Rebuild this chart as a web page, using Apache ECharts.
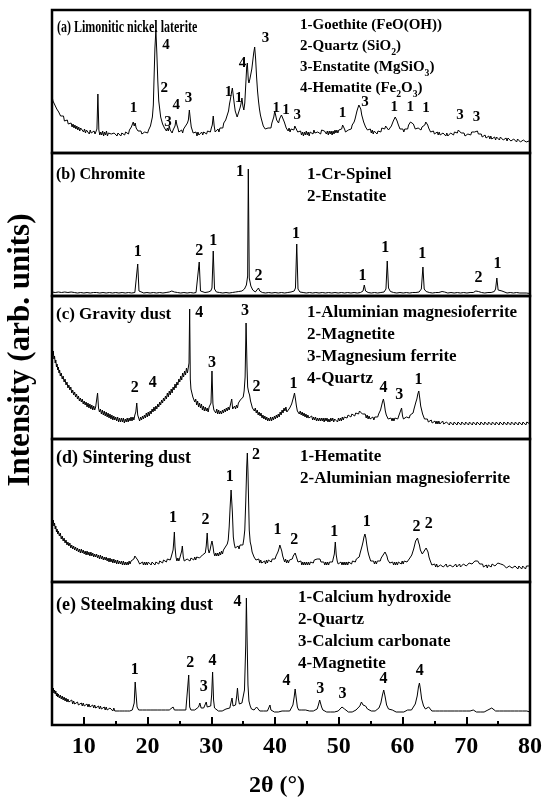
<!DOCTYPE html>
<html>
<head>
<meta charset="utf-8">
<script src="https://cdn.jsdelivr.net/npm/echarts@6/dist/echarts.min.js"></script>
<style>
  html, body { margin: 0; padding: 0; background: #fff; }
  #chart { width: 550px; height: 804px; }
</style>
</head>
<body>
<div id="chart"></div>
<script>
// x axis ticks
const xTicks = [10, 20, 30, 40, 50, 60, 70, 80]
const xMinorTicks = [15, 25, 35, 45, 55, 65, 75]

const sampleNames = [
  '(a) Limonitic nickel laterite',
  '(b) Chromite',
  '(c) Gravity dust',
  '(d) Sintering dust',
  '(e) Steelmaking dust'
]

const phasesA = ['1-Goethite (FeO(OH))', '2-Quartz (SiO{s|2})', '3-Enstatite (MgSiO{s|3})', '4-Hematite (Fe{s|2}O{s|3})']
const phasesB = ['1-Cr-Spinel', '2-Enstatite']
const phasesC = ['1-Aluminian magnesioferrite', '2-Magnetite', '3-Magnesium ferrite', '4-Quartz']
const phasesD = ['1-Hematite', '2-Aluminian magnesioferrite']
const phasesE = ['1-Calcium hydroxide', '2-Quartz', '3-Calcium carbonate', '4-Magnetite']

// patterns: [2theta, intensity (arb.)]
const patternA = [[5.0,57],[5.15,52],[5.3,54],[5.45,48],[5.6,49],[5.75,44],[5.9,46],[6.05,41],[6.2,42],[6.35,37],[6.5,39],[6.65,35],[6.8,37],[6.95,32],[7.1,34],[7.25,30],[7.4,33],[7.55,29],[7.7,31],[7.85,27],[8.0,30],[8.15,26],[8.3,29],[8.45,25],[8.6,28],[8.75,24],[8.9,27],[9.05,23],[9.2,26],[9.35,22],[9.5,25],[9.65,23],[9.8,25],[9.95,21],[10.1,24],[10.25,20],[10.4,23],[10.55,21],[10.7,24],[10.85,19],[11.0,23],[11.15,20],[11.3,22],[11.45,18],[11.6,22],[11.75,19],[11.9,21],[12.05,24],[12.2,59],[12.35,23],[12.5,18],[12.65,21],[12.8,18],[12.95,22],[13.1,17],[13.25,21],[13.4,18],[13.55,22],[13.7,17],[13.85,20],[14.0,18],[14.15,22],[14.3,19],[14.45,21],[14.6,17],[14.75,20],[14.9,18],[15.05,22],[15.2,17],[15.35,20],[15.5,18],[15.65,21],[15.8,17],[15.95,20],[16.1,18],[16.25,22],[16.4,18],[16.55,21],[16.7,19],[16.85,22],[17.0,19],[17.15,23],[17.3,21],[17.45,26],[17.6,25],[17.75,31],[17.9,27],[18.05,30],[18.2,25],[18.35,26],[18.5,22],[18.65,24],[18.8,20],[18.95,22],[19.1,19],[19.25,21],[19.4,18],[19.55,21],[19.7,19],[19.85,22],[20.0,20],[20.15,23],[20.3,22],[20.45,27],[20.6,29],[20.75,36],[20.9,48],[21.0,72],[21.15,105],[21.3,123],[21.45,100],[21.6,72],[21.75,52],[21.9,44],[22.05,36],[22.2,35],[22.35,29],[22.5,30],[22.65,25],[22.8,27],[22.95,22],[23.1,25],[23.25,22],[23.4,27],[23.55,23],[23.7,24],[23.85,20],[24.0,23],[24.15,22],[24.3,27],[24.45,33],[24.6,28],[24.75,25],[24.9,21],[25.05,23],[25.2,19],[25.35,23],[25.5,20],[25.65,24],[25.8,23],[25.95,27],[26.1,25],[26.25,30],[26.4,33],[26.55,43],[26.7,34],[26.85,26],[27.0,24],[27.15,20],[27.3,22],[27.45,18],[27.6,21],[27.75,17],[27.9,21],[28.05,18],[28.2,20],[28.35,17],[28.5,21],[28.65,18],[28.8,21],[28.95,19],[29.1,23],[29.25,19],[29.4,22],[29.55,20],[29.7,23],[29.85,21],[30.0,25],[30.15,28],[30.3,37],[30.45,27],[30.6,21],[30.75,23],[30.9,20],[31.05,24],[31.2,21],[31.35,25],[31.5,23],[31.65,27],[31.8,25],[31.95,30],[32.1,29],[32.25,33],[32.4,34],[32.55,39],[32.7,42],[32.85,49],[33.0,54],[33.15,60],[33.3,65],[33.45,57],[33.6,49],[33.75,42],[33.9,40],[34.05,36],[34.2,39],[34.35,40],[34.5,45],[34.65,49],[34.8,55],[34.95,47],[35.1,43],[35.25,50],[35.4,68],[35.55,86],[35.65,90],[35.8,73],[35.9,70],[36.05,74],[36.2,73],[36.35,84],[36.5,92],[36.65,100],[36.8,106],[36.95,94],[37.1,76],[37.25,62],[37.4,52],[37.55,44],[37.7,38],[37.85,34],[38.0,32],[38.15,27],[38.3,29],[38.45,24],[38.6,26],[38.75,22],[38.9,25],[39.05,23],[39.2,27],[39.35,25],[39.5,30],[39.65,31],[39.8,36],[39.95,42],[40.1,40],[40.25,33],[40.4,31],[40.55,30],[40.7,34],[40.85,35],[41.0,38],[41.15,40],[41.3,36],[41.45,31],[41.6,29],[41.75,25],[41.9,26],[42.05,22],[42.2,25],[42.35,21],[42.5,24],[42.65,22],[42.8,25],[42.95,23],[43.1,27],[43.25,29],[43.4,25],[43.55,21],[43.7,23],[43.85,19],[44.0,22],[44.15,18],[44.3,21],[44.45,17],[44.6,21],[44.75,18],[44.9,22],[45.05,18],[45.2,21],[45.35,17],[45.5,21],[45.65,19],[45.8,22],[45.95,19],[46.1,23],[46.25,20],[46.4,22],[46.55,18],[46.7,21],[46.85,19],[47.0,22],[47.15,19],[47.3,23],[47.45,21],[47.6,25],[47.75,22],[47.9,23],[48.05,19],[48.2,22],[48.35,18],[48.5,22],[48.65,19],[48.8,22],[48.95,18],[49.1,22],[49.25,19],[49.4,23],[49.55,20],[49.7,23],[49.85,20],[50.0,23],[50.15,22],[50.3,25],[50.45,24],[50.6,28],[50.75,27],[50.9,24],[51.05,21],[51.2,23],[51.35,20],[51.5,23],[51.65,22],[51.8,25],[51.95,24],[52.1,28],[52.25,27],[52.4,31],[52.55,34],[52.7,38],[52.85,42],[53.0,45],[53.15,48],[53.3,46],[53.45,44],[53.6,38],[53.75,36],[53.9,31],[54.05,30],[54.2,26],[54.35,27],[54.5,23],[54.65,25],[54.8,21],[54.95,24],[55.1,20],[55.25,23],[55.4,19],[55.55,22],[55.7,20],[55.85,23],[56.0,19],[56.15,22],[56.3,21],[56.45,24],[56.6,21],[56.75,25],[56.9,23],[57.05,26],[57.2,24],[57.35,27],[57.5,25],[57.65,26],[57.8,23],[57.95,25],[58.1,23],[58.25,27],[58.4,28],[58.55,32],[58.7,33],[58.85,36],[59.0,35],[59.15,32],[59.3,29],[59.45,27],[59.6,24],[59.75,25],[59.9,22],[60.05,24],[60.2,21],[60.35,24],[60.5,22],[60.65,25],[60.8,24],[60.95,28],[61.1,27],[61.25,31],[61.4,32],[61.55,33],[61.7,29],[61.85,27],[62.0,24],[62.15,25],[62.3,22],[62.45,25],[62.6,23],[62.75,26],[62.9,23],[63.05,26],[63.2,25],[63.35,28],[63.5,28],[63.65,31],[63.8,31],[63.95,28],[64.1,25],[64.25,24],[64.4,21],[64.55,23],[64.7,20],[64.85,22],[65.0,19],[65.15,21],[65.3,18],[65.45,21],[65.6,18],[65.75,21],[65.9,18],[66.05,20],[66.2,17],[66.35,20],[66.5,18],[66.65,20],[66.8,17],[66.95,20],[67.1,17],[67.25,19],[67.4,17],[67.55,20],[67.7,18],[67.85,21],[68.0,18],[68.15,21],[68.3,19],[68.45,22],[68.6,20],[68.75,23],[68.9,21],[69.05,23],[69.2,20],[69.35,22],[69.5,19],[69.65,20],[69.8,17],[69.95,19],[70.1,17],[70.25,19],[70.4,17],[70.55,20],[70.7,18],[70.85,21],[71.0,19],[71.15,22],[71.3,21],[71.45,23],[71.6,21],[71.75,22],[71.9,19],[72.05,20],[72.2,17],[72.35,19],[72.5,16],[72.65,18],[72.8,15],[72.95,18],[73.1,15],[73.25,17],[73.4,15],[73.55,17],[73.7,14],[73.85,17],[74.0,14],[74.15,16],[74.3,14],[74.45,16],[74.6,13],[74.75,16],[74.9,14],[75.05,16],[75.2,13],[75.35,16],[75.5,14],[75.65,16],[75.8,13],[75.95,15],[76.1,13],[76.25,15],[76.4,12],[76.55,15],[76.7,13],[76.85,15],[77.0,12],[77.15,14],[77.3,12],[77.45,14],[77.6,12],[77.75,14],[77.9,11],[78.05,14],[78.2,12],[78.35,14],[78.5,11],[78.65,13],[78.8,11],[78.95,13],[79.1,11],[79.25,13],[79.4,11],[79.55,13],[79.7,11],[79.85,12],[80.0,12]]

const patternB = [[5.0,4],[5.5,3.5],[6.0,4],[6.5,3.5],[7.0,4],[7.5,3.5],[8.0,4],[8.5,3.5],[9.0,3],[9.5,3.5],[10.0,3],[10.5,3.5],[11,3],[11.5,3.5],[12,3.5],[12.5,3],[13,3.5],[13.5,3],[14,3.5],[14.5,3],[15,3.5],[15.5,3],[16,3.5],[16.5,3],[17,3.5],[17.5,3],[18.0,3.5],[18.25,5],[18.45,32],[18.65,5],[18.9,3.5],[19.4,3],[19.9,3.5],[20.4,3],[20.9,3.5],[21.4,3],[21.9,3.5],[22.4,3],[22.9,3.5],[23.4,4],[23.8,5],[24.2,4],[24.7,3.5],[25.2,3],[25.7,3.5],[26.2,3],[26.7,3.5],[27.2,3],[27.6,3.5],[27.9,5],[28.1,34],[28.3,5],[28.6,4],[29.0,3.5],[29.5,4],[29.9,5],[30.1,8],[30.3,45],[30.5,7],[30.8,4],[31.3,3.5],[31.8,3],[32.3,3.5],[32.8,3],[33.3,3.5],[33.8,4],[34.3,4.5],[34.8,5],[35.2,7],[35.5,11],[35.7,20],[35.8,127],[35.95,18],[36.2,10],[36.5,6],[36.9,4],[37.2,5],[37.4,8],[37.6,5],[38.0,3.5],[38.5,3],[39,3.5],[39.5,3],[40,3.5],[40.5,3],[41,3.5],[41.5,3],[42.0,3.5],[42.5,4],[42.8,6],[43.0,5],[43.2,8],[43.4,52],[43.6,7],[43.9,4],[44.4,3.5],[44.9,3],[45.4,3.5],[45.9,3],[46.4,3.5],[46.9,3],[47.4,3.5],[47.9,3],[48.4,3.5],[48.9,3],[49.4,3.5],[49.9,3],[50.4,3.5],[50.9,3],[51.4,3.5],[51.9,3],[52.4,3.5],[52.9,3],[53.4,3.5],[53.8,5],[54.0,11],[54.2,5],[54.6,3.5],[55.1,3],[55.6,3.5],[56.1,3],[56.6,3.5],[57.1,4],[57.4,7],[57.6,35],[57.8,8],[58.1,4.5],[58.6,3.5],[59.1,3],[59.6,3.5],[60.1,3],[60.6,3.5],[61.1,3],[61.6,3.5],[62.1,3.5],[62.6,4],[62.95,7],[63.2,29],[63.4,7],[63.7,4.5],[64.2,3.5],[64.7,3],[65.2,3.5],[65.7,3.5],[66.2,4.5],[66.4,6],[66.6,4],[67.1,3],[67.6,3.5],[68.1,3],[68.6,3.5],[69.1,3],[69.6,3.5],[70.1,3],[70.6,3.5],[71.1,3.5],[71.5,5],[71.7,6],[71.9,4.5],[72.4,3.5],[72.9,3],[73.4,3.5],[73.9,3.5],[74.4,4.5],[74.6,7],[74.8,18],[75.0,6],[75.3,4],[75.6,5],[75.9,3.5],[76.4,3],[76.9,3.5],[77.4,3],[77.9,3.5],[78.4,3],[78.9,3],[79.4,3],[80.0,2.5]]

const patternC = [[5.0,92],[5.1,85],[5.2,88],[5.3,80],[5.4,83],[5.5,76],[5.6,79],[5.7,72],[5.8,75],[5.9,69],[6.0,72],[6.1,66],[6.2,69],[6.3,63],[6.45,66],[6.6,60],[6.75,63],[6.9,57],[7.05,60],[7.2,54],[7.35,57],[7.5,51],[7.65,54],[7.8,49],[7.95,52],[8.1,46],[8.25,49],[8.4,44],[8.55,47],[8.7,42],[8.85,45],[9.0,40],[9.15,43],[9.3,38],[9.45,41],[9.6,37],[9.75,40],[9.9,35],[10.05,38],[10.2,34],[10.35,37],[10.5,32],[10.65,36],[10.8,31],[10.95,35],[11.1,30],[11.25,34],[11.4,29],[11.55,33],[11.7,29],[11.85,32],[12.0,30],[12.15,46],[12.3,31],[12.45,27],[12.6,30],[12.75,25],[12.9,29],[13.05,24],[13.2,28],[13.35,23],[13.5,27],[13.65,22],[13.8,26],[13.95,21],[14.1,25],[14.25,20],[14.4,24],[14.55,19],[14.7,23],[14.85,19],[15.0,22],[15.15,18],[15.3,22],[15.45,17],[15.6,21],[15.75,17],[15.9,21],[16.05,17],[16.2,21],[16.35,16],[16.5,20],[16.65,17],[16.8,21],[16.95,17],[17.1,21],[17.25,18],[17.4,22],[17.55,18],[17.7,22],[17.85,19],[18.0,24],[18.15,27],[18.3,36],[18.45,24],[18.6,21],[18.75,18],[18.9,22],[19.05,19],[19.2,23],[19.35,20],[19.5,24],[19.65,21],[19.8,26],[19.95,22],[20.1,27],[20.25,23],[20.4,28],[20.55,25],[20.7,30],[20.85,27],[21.0,32],[21.15,28],[21.3,33],[21.45,30],[21.6,35],[21.75,32],[21.9,37],[22.05,34],[22.2,39],[22.35,36],[22.5,41],[22.65,38],[22.8,43],[22.95,40],[23.1,46],[23.25,42],[23.4,48],[23.55,44],[23.7,50],[23.85,46],[24.0,52],[24.15,49],[24.3,55],[24.45,51],[24.6,57],[24.75,54],[24.9,60],[25.05,57],[25.2,63],[25.35,59],[25.5,66],[25.65,62],[25.8,68],[25.95,64],[26.1,71],[26.25,66],[26.4,72],[26.5,76],[26.6,130],[26.7,60],[26.8,50],[26.95,46],[27.1,42],[27.25,44],[27.4,37],[27.55,40],[27.7,34],[27.85,38],[28.0,32],[28.15,36],[28.3,31],[28.45,35],[28.6,29],[28.75,33],[28.9,28],[29.05,32],[29.2,28],[29.35,31],[29.5,27],[29.65,32],[29.8,30],[29.95,36],[30.1,68],[30.25,35],[30.4,29],[30.55,31],[30.7,26],[30.85,30],[31.0,25],[31.15,29],[31.3,25],[31.45,28],[31.6,25],[31.75,29],[31.9,26],[32.05,30],[32.2,27],[32.35,31],[32.5,28],[32.65,32],[32.8,29],[32.95,33],[33.1,32],[33.2,40],[33.35,30],[33.5,28],[33.65,33],[33.8,30],[33.95,34],[34.1,31],[34.25,36],[34.4,34],[34.55,39],[34.7,40],[34.85,37],[35.0,42],[35.15,48],[35.3,62],[35.45,116],[35.6,72],[35.7,52],[35.85,47],[36.0,44],[36.15,38],[36.3,36],[36.45,31],[36.6,33],[36.75,28],[36.9,31],[37.05,26],[37.2,29],[37.35,24],[37.5,27],[37.65,23],[37.8,26],[37.95,21],[38.1,24],[38.25,20],[38.4,23],[38.55,19],[38.7,22],[38.85,18],[39.0,21],[39.15,18],[39.3,22],[39.45,18],[39.6,22],[39.75,19],[39.9,23],[40.05,20],[40.2,24],[40.35,21],[40.5,25],[40.65,22],[40.8,27],[40.95,24],[41.1,29],[41.25,26],[41.4,31],[41.55,28],[41.7,32],[41.85,27],[42.0,29],[42.15,27],[42.3,31],[42.45,31],[42.6,35],[42.75,37],[42.9,42],[43.05,46],[43.2,40],[43.35,33],[43.5,28],[43.65,30],[43.8,25],[43.95,28],[44.1,24],[44.25,27],[44.4,23],[44.55,26],[44.7,22],[44.85,25],[45.0,21],[45.15,24],[45.3,21],[45.45,23],[45.6,20],[45.75,23],[45.9,19],[46.05,22],[46.2,19],[46.35,22],[46.5,18],[46.65,21],[46.8,18],[46.95,21],[47.1,18],[47.25,21],[47.4,18],[47.55,21],[47.7,17],[47.85,21],[48.0,18],[48.15,21],[48.3,17],[48.45,20],[48.6,17],[48.75,21],[48.9,18],[49.05,21],[49.2,17],[49.35,20],[49.5,18],[49.65,21],[49.8,17],[49.95,21],[50.1,18],[50.25,21],[50.4,18],[50.55,22],[50.7,19],[50.85,22],[51.0,20],[51.15,23],[51.3,21],[51.45,24],[51.6,22],[51.75,25],[51.9,22],[52.05,25],[52.2,23],[52.35,26],[52.5,23],[52.65,26],[52.8,24],[52.95,27],[53.1,25],[53.25,28],[53.4,26],[53.55,28],[53.7,25],[53.85,27],[54.0,23],[54.15,25],[54.3,21],[54.45,24],[54.6,20],[54.75,23],[54.9,20],[55.05,22],[55.2,19],[55.35,22],[55.5,19],[55.65,22],[55.8,20],[55.95,23],[56.1,22],[56.25,25],[56.4,26],[56.55,29],[56.7,33],[56.85,37],[57.0,40],[57.15,35],[57.3,28],[57.45,24],[57.6,22],[57.75,20],[57.9,22],[58.05,19],[58.2,21],[58.35,18],[58.5,21],[58.65,18],[58.8,21],[58.95,19],[59.1,22],[59.25,20],[59.4,23],[59.55,21],[59.7,24],[59.85,31],[60.0,23],[60.15,20],[60.3,22],[60.45,19],[60.6,22],[60.75,20],[60.9,23],[61.05,21],[61.2,24],[61.35,23],[61.5,26],[61.65,26],[61.8,30],[61.95,32],[62.1,37],[62.25,40],[62.4,45],[62.55,48],[62.7,41],[62.85,33],[63.0,29],[63.15,25],[63.3,23],[63.45,20],[63.6,21],[63.75,18],[63.9,20],[64.05,17],[64.2,19],[64.35,16],[64.5,19],[64.65,16],[64.8,18],[64.95,15],[65.1,18],[65.25,15],[65.4,18],[65.55,15],[65.7,18],[65.85,15],[66.0,17],[66.15,15],[66.3,18],[66.45,15],[66.6,17],[66.75,14],[66.9,17],[67.05,15],[67.2,18],[67.35,14],[67.5,17],[67.65,15],[67.8,17],[67.95,14],[68.1,17],[68.25,15],[68.4,18],[68.55,14],[68.7,17],[68.85,15],[69.0,17],[69.15,14],[69.3,17],[69.45,15],[69.6,18],[69.75,14],[69.9,17],[70.05,15],[70.2,17],[70.35,14],[70.5,17],[70.65,15],[70.8,18],[70.95,14],[71.1,17],[71.25,15],[71.4,17],[71.55,14],[71.7,17],[71.85,15],[72.0,18],[72.15,14],[72.3,17],[72.45,15],[72.6,17],[72.75,14],[72.9,17],[73.05,15],[73.2,18],[73.35,14],[73.5,17],[73.65,15],[73.8,17],[73.95,14],[74.1,17],[74.25,15],[74.4,18],[74.55,14],[74.7,17],[74.85,15],[75.0,17],[75.15,14],[75.3,17],[75.45,15],[75.6,18],[75.75,14],[75.9,17],[76.05,15],[76.2,17],[76.35,14],[76.5,17],[76.65,15],[76.8,18],[76.95,14],[77.1,17],[77.25,15],[77.4,17],[77.55,14],[77.7,17],[77.85,15],[78.0,18],[78.15,14],[78.3,17],[78.45,15],[78.6,17],[78.75,14],[78.9,17],[79.05,15],[79.2,17],[79.35,14],[79.5,17],[79.65,15],[79.8,17],[80.0,15]]

const patternD = [[5.0,66],[5.1,59],[5.2,62],[5.3,56],[5.4,59],[5.5,53],[5.6,56],[5.7,50],[5.8,53],[5.9,48],[6.0,51],[6.15,46],[6.3,49],[6.45,43],[6.6,46],[6.75,41],[6.9,44],[7.05,39],[7.2,42],[7.35,37],[7.5,40],[7.65,36],[7.8,39],[7.95,34],[8.1,37],[8.25,33],[8.4,36],[8.55,32],[8.7,35],[8.85,31],[9.0,34],[9.15,30],[9.3,33],[9.45,29],[9.6,33],[9.75,29],[9.9,32],[10.05,28],[10.2,31],[10.35,27],[10.5,31],[10.65,27],[10.8,30],[10.95,26],[11.1,30],[11.25,26],[11.4,29],[11.55,25],[11.7,28],[11.85,25],[12.0,28],[12.15,24],[12.3,27],[12.45,23],[12.6,27],[12.75,23],[12.9,26],[13.05,22],[13.2,25],[13.35,22],[13.5,25],[13.65,21],[13.8,24],[13.95,20],[14.1,24],[14.25,20],[14.4,23],[14.55,19],[14.7,23],[14.85,19],[15.0,22],[15.15,18],[15.3,22],[15.45,18],[15.6,21],[15.75,18],[15.9,21],[16.05,17],[16.2,21],[16.35,17],[16.5,20],[16.65,17],[16.8,20],[16.95,17],[17.1,21],[17.25,18],[17.4,21],[17.55,20],[17.7,23],[17.85,23],[18.0,26],[18.15,25],[18.3,27],[18.45,22],[18.6,21],[18.75,18],[18.9,20],[19.05,17],[19.2,20],[19.35,17],[19.5,20],[19.65,17],[19.8,20],[19.95,17],[20.1,20],[20.25,18],[20.4,21],[20.55,17],[20.7,20],[20.85,18],[21.0,21],[21.15,17],[21.3,20],[21.45,18],[21.6,21],[21.75,18],[21.9,21],[22.05,19],[22.2,22],[22.35,19],[22.5,22],[22.65,20],[22.8,23],[22.95,20],[23.1,23],[23.25,21],[23.4,24],[23.55,22],[23.7,25],[23.85,27],[24.0,32],[24.1,40],[24.2,50],[24.3,35],[24.45,25],[24.6,21],[24.75,24],[24.9,21],[25.05,24],[25.2,26],[25.35,31],[25.45,36],[25.6,25],[25.75,21],[25.9,23],[26.05,20],[26.2,23],[26.35,21],[26.5,24],[26.65,21],[26.8,24],[26.95,22],[27.1,25],[27.25,22],[27.4,25],[27.55,22],[27.7,25],[27.85,23],[28.0,27],[28.15,24],[28.3,26],[28.45,23],[28.6,27],[28.75,25],[28.9,29],[29.05,29],[29.2,36],[29.35,49],[29.5,33],[29.65,29],[29.8,32],[29.95,37],[30.1,41],[30.25,36],[30.4,29],[30.55,26],[30.7,29],[30.85,26],[31.0,29],[31.15,26],[31.3,30],[31.45,27],[31.6,31],[31.75,28],[31.9,32],[32.05,31],[32.2,35],[32.35,34],[32.5,38],[32.65,42],[32.8,55],[32.95,75],[33.1,92],[33.2,94],[33.3,70],[33.45,45],[33.6,38],[33.75,34],[33.9,36],[34.05,32],[34.2,36],[34.35,33],[34.5,37],[34.65,35],[34.8,39],[34.95,37],[35.1,43],[35.25,52],[35.4,80],[35.55,115],[35.65,129],[35.75,110],[35.85,80],[35.95,52],[36.1,40],[36.25,36],[36.4,30],[36.55,29],[36.7,25],[36.85,26],[37.0,22],[37.15,24],[37.3,20],[37.45,23],[37.6,19],[37.75,22],[37.9,19],[38.05,21],[38.2,18],[38.35,21],[38.5,18],[38.65,22],[38.8,19],[38.95,22],[39.1,20],[39.25,23],[39.4,20],[39.55,23],[39.7,21],[39.85,24],[40.0,23],[40.15,26],[40.3,27],[40.45,30],[40.6,33],[40.75,37],[40.9,38],[41.05,31],[41.2,26],[41.35,24],[41.5,20],[41.65,23],[41.8,19],[41.95,22],[42.1,19],[42.25,22],[42.4,20],[42.55,23],[42.7,23],[42.85,26],[43.0,26],[43.15,29],[43.3,26],[43.45,24],[43.6,20],[43.75,21],[43.9,18],[44.05,21],[44.2,17],[44.35,20],[44.5,17],[44.65,20],[44.8,17],[44.95,20],[45.1,17],[45.25,20],[45.4,17],[45.55,20],[45.7,18],[45.85,21],[46.0,19],[46.15,22],[46.3,20],[46.45,23],[46.6,23],[46.75,25],[46.9,24],[47.05,23],[47.2,20],[47.35,21],[47.5,18],[47.65,20],[47.8,17],[47.95,20],[48.1,17],[48.25,20],[48.4,17],[48.55,20],[48.7,18],[48.85,21],[49.0,20],[49.15,24],[49.3,28],[49.45,40],[49.6,27],[49.75,21],[49.9,18],[50.05,20],[50.2,17],[50.35,20],[50.5,17],[50.65,20],[50.8,17],[50.95,20],[51.1,17],[51.25,20],[51.4,17],[51.55,20],[51.7,18],[51.85,20],[52.0,18],[52.15,21],[52.3,19],[52.45,22],[52.6,20],[52.75,23],[52.9,22],[53.05,25],[53.2,25],[53.35,29],[53.5,31],[53.65,36],[53.8,40],[53.95,45],[54.1,48],[54.25,44],[54.4,37],[54.55,31],[54.7,27],[54.85,25],[55.0,21],[55.15,22],[55.3,19],[55.45,21],[55.6,18],[55.75,21],[55.9,18],[56.05,21],[56.2,19],[56.35,22],[56.5,21],[56.65,24],[56.8,24],[56.95,27],[57.1,28],[57.25,30],[57.4,28],[57.55,26],[57.7,22],[57.85,22],[58.0,19],[58.15,20],[58.3,17],[58.45,20],[58.6,17],[58.75,20],[58.9,17],[59.05,20],[59.2,17],[59.35,20],[59.5,18],[59.65,20],[59.8,18],[59.95,21],[60.1,18],[60.25,21],[60.4,19],[60.55,21],[60.7,20],[60.85,22],[61.0,22],[61.15,24],[61.3,25],[61.45,27],[61.6,30],[61.75,33],[61.9,37],[62.05,41],[62.2,43],[62.35,44],[62.5,40],[62.65,37],[62.8,32],[62.95,30],[63.1,28],[63.25,30],[63.4,31],[63.55,33],[63.7,34],[63.85,35],[64.0,30],[64.15,25],[64.3,22],[64.45,20],[64.6,17],[64.75,19],[64.9,16],[65.05,18],[65.2,15],[65.35,18],[65.5,15],[65.65,17],[65.8,15],[65.95,17],[66.1,15],[66.25,18],[66.4,15],[66.55,17],[66.7,15],[66.85,18],[67.0,15],[67.15,17],[67.3,14],[67.45,17],[67.6,15],[67.75,18],[67.9,15],[68.05,17],[68.2,15],[68.35,18],[68.5,15],[68.65,17],[68.8,15],[68.95,18],[69.1,15],[69.25,17],[69.4,15],[69.55,18],[69.7,16],[69.85,18],[70.0,16],[70.15,18],[70.3,16],[70.45,19],[70.6,17],[70.75,19],[70.9,18],[71.05,20],[71.2,19],[71.35,21],[71.5,20],[71.65,22],[71.8,21],[71.95,20],[72.1,18],[72.25,18],[72.4,16],[72.55,18],[72.7,15],[72.85,17],[73.0,15],[73.15,17],[73.3,14],[73.45,17],[73.6,15],[73.75,17],[73.9,15],[74.05,18],[74.2,16],[74.35,18],[74.5,16],[74.65,18],[74.8,17],[74.95,19],[75.1,18],[75.25,19],[75.4,18],[75.55,20],[75.7,18],[75.85,17],[76.0,15],[76.15,17],[76.3,14],[76.45,16],[76.6,14],[76.75,16],[76.9,14],[77.05,16],[77.2,14],[77.35,16],[77.5,13],[77.65,16],[77.8,14],[77.95,16],[78.1,13],[78.25,16],[78.4,14],[78.55,16],[78.7,13],[78.85,16],[79.0,14],[79.15,16],[79.3,13],[79.45,16],[79.6,14],[79.8,16],[80.0,15]]

const patternE = [[5.0,39],[5.1,34],[5.2,37],[5.3,32],[5.4,35],[5.5,31],[5.6,34],[5.7,29],[5.8,32],[5.9,28],[6.0,31],[6.15,27],[6.3,30],[6.45,26],[6.6,29],[6.75,25],[6.9,28],[7.05,24],[7.2,27],[7.35,23],[7.5,26],[7.65,23],[7.8,25],[7.95,22],[8.1,25],[8.25,21],[8.4,24],[8.55,21],[8.7,23],[8.85,20],[9.0,23],[9.15,20],[9.3,22],[9.45,19],[9.6,22],[9.75,19],[9.9,22],[10.05,19],[10.2,21],[10.35,18],[10.5,21],[10.65,18],[10.8,21],[10.95,18],[11.1,20],[11.25,17],[11.4,20],[11.55,17],[11.7,20],[11.85,17],[12.0,19],[12.15,17],[12.3,19],[12.45,16],[12.6,19],[12.75,16],[12.9,18],[13.05,16],[13.2,18],[13.35,15],[13.5,18],[13.65,15],[13.8,17],[13.95,15],[14.1,17],[14.25,15],[14.4,17],[14.55,14],[14.7,17],[14.85,14],[15.0,16],[15.2,14],[15.4,16],[15.6,14],[15.8,16],[16.0,14],[16.2,16],[16.4,14],[16.6,15],[16.8,14],[17.0,16],[17.2,14],[17.4,16],[17.6,15],[17.75,17],[17.9,22],[18.05,43],[18.2,30],[18.35,18],[18.6,15],[18.9,14],[19.2,15],[19.5,14],[19.8,15],[20.1,14],[20.4,15],[20.7,14],[21.0,15],[21.3,14],[21.6,15],[21.9,14],[22.2,15],[22.5,14],[22.8,15],[23.1,14],[23.4,15],[23.7,16],[24.0,18],[24.2,15],[24.5,14],[24.8,15],[25.1,14],[25.4,15],[25.7,14],[26.0,15],[26.25,17],[26.45,50],[26.6,18],[26.8,15],[27.1,14],[27.4,15],[27.7,16],[28.0,18],[28.2,22],[28.4,17],[28.6,18],[28.8,17],[29.0,19],[29.2,23],[29.35,18],[29.6,17],[29.9,19],[30.05,30],[30.2,53],[30.35,25],[30.5,17],[30.8,15],[31.1,14],[31.4,15],[31.7,14],[32.0,15],[32.3,16],[32.6,15],[32.9,17],[33.1,23],[33.25,27],[33.4,19],[33.6,17],[33.8,20],[34.0,30],[34.1,37],[34.25,26],[34.4,21],[34.6,20],[34.8,22],[35.0,24],[35.2,35],[35.4,80],[35.5,127],[35.6,90],[35.75,40],[35.9,24],[36.1,19],[36.3,16],[36.5,17],[36.7,15],[36.9,16],[37.1,18],[37.2,20],[37.35,16],[37.6,14],[37.9,15],[38.2,14],[38.5,15],[38.8,14],[39.0,16],[39.2,20],[39.35,15],[39.6,14],[39.9,13],[40.2,14],[40.5,13],[40.8,15],[41.1,14],[41.4,13],[41.7,14],[42.0,15],[42.3,14],[42.6,16],[42.8,20],[43.0,28],[43.15,36],[43.3,28],[43.5,18],[43.7,15],[43.9,14],[44.2,15],[44.5,14],[44.8,15],[45.1,13],[45.4,14],[45.7,13],[46.0,14],[46.3,15],[46.6,16],[46.8,20],[47.0,25],[47.15,24],[47.3,18],[47.5,15],[47.8,14],[48.1,13],[48.4,14],[48.7,13],[49.0,14],[49.3,13],[49.6,15],[49.9,14],[50.2,15],[50.5,18],[50.7,20],[50.9,16],[51.2,14],[51.5,13],[51.8,14],[52.1,13],[52.4,14],[52.7,15],[53.0,16],[53.3,19],[53.55,23],[53.8,20],[54.0,21],[54.2,19],[54.5,16],[54.8,15],[55.1,14],[55.4,15],[55.7,14],[56.0,15],[56.3,17],[56.6,22],[56.85,30],[57.05,35],[57.25,29],[57.5,20],[57.8,16],[58.1,14],[58.4,15],[58.7,14],[59.0,13],[59.3,14],[59.6,13],[59.9,14],[60.2,13],[60.5,14],[60.8,15],[61.1,14],[61.4,15],[61.7,17],[62.0,21],[62.3,29],[62.5,38],[62.65,42],[62.8,36],[63.0,26],[63.3,19],[63.6,16],[63.9,17],[64.1,18],[64.3,16],[64.6,14],[64.9,13],[65.2,14],[65.5,13],[65.8,14],[66.1,13],[66.4,14],[66.7,13],[67.0,14],[67.3,13],[67.6,14],[67.9,13],[68.2,14],[68.5,13],[68.8,14],[69.1,13],[69.4,14],[69.7,13],[70.0,14],[70.3,13],[70.6,14],[70.9,15],[71.1,15],[71.3,14],[71.6,13],[71.9,14],[72.2,13],[72.5,14],[72.8,13],[73.1,14],[73.4,15],[73.7,16],[74.0,17],[74.3,16],[74.6,14],[74.9,13],[75.2,14],[75.5,13],[75.8,14],[76.1,13],[76.4,14],[76.7,13],[77.0,14],[77.3,13],[77.6,14],[77.9,13],[78.2,14],[78.5,13],[78.8,14],[79.1,13],[79.5,14],[80.0,13]]

// peak markers: [2theta, intensity, phase number]
const peaksA = [[17.8,45,'1'],[22.9,108,'4'],[22.6,65,'2'],[23.2,31,'3'],[24.5,48,'4'],[26.4,55,'3'],[32.7,61,'1'],[34.3,55,'1'],[34.9,90,'4'],[38.5,115,'3'],[40.2,45,'1'],[41.7,43,'1'],[43.5,38,'3'],[50.6,40,'1'],[54.1,51,'3'],[58.7,46,'1'],[61.2,46,'1'],[63.7,45,'1'],[69.0,38,'3'],[71.6,36,'3']]
const peaksB = [[18.45,44,'1'],[28.1,45,'2'],[30.3,55,'1'],[34.5,124,'1'],[37.4,20,'2'],[43.3,62,'1'],[53.7,20,'1'],[57.3,48,'1'],[63.1,42,'1'],[71.9,18,'2'],[74.9,32,'1']]
const peaksC = [[18.0,51,'2'],[20.8,56,'4'],[28.1,126,'4'],[30.1,76,'3'],[35.3,128,'3'],[37.1,52,'2'],[42.9,55,'1'],[57.0,51,'4'],[59.5,44,'3'],[62.5,59,'1']]
const peaksD = [[24.0,64,'1'],[29.1,62,'2'],[32.9,105,'1'],[37.0,127,'2'],[40.4,52,'1'],[43.0,42,'2'],[49.3,50,'1'],[54.4,60,'1'],[62.2,55,'2'],[64.1,58,'2']]
const peaksE = [[18.0,55,'1'],[26.7,62,'2'],[28.8,38,'3'],[30.2,64,'4'],[34.1,123,'4'],[41.8,44,'4'],[47.1,36,'3'],[50.6,31,'3'],[57.0,46,'4'],[62.7,54,'4']]

const patterns = [patternA, patternB, patternC, patternD, patternE]
const peaks = [peaksA, peaksB, peaksC, peaksD, peaksE]
const phases = [phasesA, phasesB, phasesC, phasesD, phasesE]

// layout
const FONT = "'Liberation Serif', 'Times New Roman', serif"
const LEFT = 52, RIGHT = 20, TOP = 10, PANEL_H = 143
const titleLayout = [
  { x: 57, y: 28, size: 16, sx: 0.75 },
  { x: 56, y: 175, size: 16, sx: 1 },
  { x: 56, y: 315, size: 17, sx: 1 },
  { x: 56, y: 458, size: 18, sx: 1 },
  { x: 56, y: 605, size: 18, sx: 1 }
]
const phaseLayout = [
  { x: 300, y: 15, size: 15, lh: 21 },
  { x: 307, y: 164, size: 17, lh: 22 },
  { x: 307, y: 302, size: 17, lh: 22 },
  { x: 300, y: 446, size: 17, lh: 22 },
  { x: 298, y: 587, size: 17, lh: 22 }
]

const grids = [], xAxes = [], yAxes = [], series = [], graphics = []

patterns.forEach((data, i) => {
  const last = i === patterns.length - 1
  grids.push({
    left: LEFT, right: RIGHT, top: TOP + PANEL_H * i, height: PANEL_H,
    show: true, borderColor: '#000', borderWidth: 2.5, backgroundColor: 'transparent'
  })
  xAxes.push({
    type: 'value', gridIndex: i, min: 5, max: 80,
    axisLine: { show: false }, splitLine: { show: false },
    axisTick: { show: last, inside: true, length: 8, customValues: xTicks, lineStyle: { color: '#000', width: 2 } },
    axisLabel: {
      show: last, customValues: xTicks, margin: 10,
      color: '#000', fontFamily: FONT, fontWeight: 'bold', fontSize: 24
    }
  })
  yAxes.push({ type: 'value', gridIndex: i, min: 0, max: 143, show: false })
  series.push({
    type: 'line', xAxisIndex: i, yAxisIndex: i, data,
    showSymbol: false, symbol: 'none', silent: true, animation: false,
    lineStyle: { color: '#000', width: 1 }
  })
  series.push({
    type: 'scatter', xAxisIndex: i, yAxisIndex: i, data: peaks[i],
    symbolSize: 0, itemStyle: { color: '#000', opacity: 1 }, silent: true, animation: false,
    label: {
      show: true, position: 'inside', formatter: p => p.data[2], opacity: 1,
      color: '#000', textBorderWidth: 0, textBorderColor: 'transparent',
      fontFamily: FONT, fontWeight: 'bold', fontSize: i === 0 ? 15 : 16
    }
  })

  const t = titleLayout[i]
  graphics.push({
    type: 'text', x: t.x, y: t.y, scaleX: t.sx,
    style: { text: sampleNames[i], fill: '#000', font: `bold ${t.size}px ${FONT}`, verticalAlign: 'middle' }
  })
  const p = phaseLayout[i]
  graphics.push({
    type: 'text', x: p.x, y: p.y,
    style: {
      text: phases[i].join('\n'), fill: '#000', font: `bold ${p.size}px ${FONT}`,
      lineHeight: p.lh, verticalAlign: 'top',
      rich: { s: { fontSize: p.size * 0.65, fontWeight: 'bold', fontFamily: FONT, verticalAlign: 'bottom', lineHeight: p.lh } }
    }
  })
})

// minor ticks on the bottom panel (overlay grid)
grids.push({ left: LEFT, right: RIGHT, top: TOP + PANEL_H * 4, height: PANEL_H, show: false })
xAxes.push({
  type: 'value', gridIndex: 5, min: 5, max: 80,
  axisLine: { show: false }, splitLine: { show: false }, axisLabel: { show: false },
  axisTick: { show: true, inside: true, length: 4, customValues: xMinorTicks, lineStyle: { color: '#000', width: 2 } }
})
yAxes.push({ type: 'value', gridIndex: 5, min: 0, max: 143, show: false })

graphics.push({
  type: 'text', x: 21, y: 350, rotation: Math.PI / 2,
  style: { text: 'Intensity (arb. units)', fill: '#000', font: `bold 31px ${FONT}`, align: 'center', verticalAlign: 'middle' }
})
graphics.push({
  type: 'text', x: 277, y: 786,
  style: { text: '2θ (°)', fill: '#000', font: `bold 24px ${FONT}`, align: 'center', verticalAlign: 'middle' }
})

const chart = echarts.init(document.getElementById('chart'), null, { renderer: 'canvas' })
chart.setOption({
  backgroundColor: '#fff',
  animation: false,
  grid: grids,
  xAxis: xAxes,
  yAxis: yAxes,
  series,
  graphic: graphics
})
</script>
</body>
</html>
